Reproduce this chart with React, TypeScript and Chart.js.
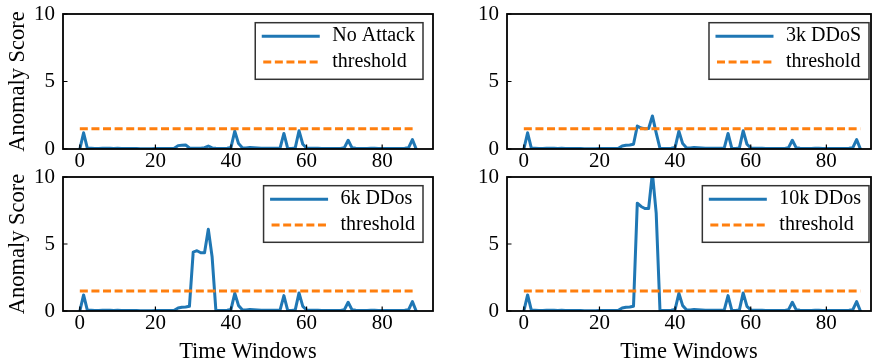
import { useEffect, useRef } from 'react';
import { Chart, registerables } from 'chart.js';

Chart.register(...registerables);

const FONT = "'Liberation Serif', 'Times New Roman', serif";

const TIME_WINDOWS = Array.from({ length: 90 }, (_, i) => i);
const X_TICKS = [0, 20, 40, 60, 80];
const Y_TICKS = [0, 5, 10];
const THRESHOLD = 1.5;
const THRESHOLD_LABEL = 'threshold';
const X_TITLE = 'Time Windows';
const Y_TITLE = 'Anomaly Score';

const NO_ATTACK = [
  0.0, 1.2, 0.05, 0.05, 0.04, 0.04, 0.05, 0.06, 0.05, 0.04,
  0.06, 0.04, 0.03, 0.03, 0.03, 0.03, 0.02, 0.02, 0.02, 0.02,
  0.03, 0.03, 0.03, 0.03, 0.04, 0.05, 0.25, 0.28, 0.3, 0.08,
  0.06, 0.05, 0.05, 0.1, 0.22, 0.08, 0.05, 0.04, 0.04, 0.05,
  0.12, 1.32, 0.4, 0.1, 0.08, 0.12, 0.1, 0.08, 0.06, 0.05,
  0.05, 0.05, 0.05, 0.08, 1.15, 0.05, 0.04, 0.08, 1.35, 0.35,
  0.08, 0.06, 0.05, 0.05, 0.04, 0.04, 0.03, 0.03, 0.03, 0.04,
  0.1, 0.65, 0.1, 0.05, 0.04, 0.04, 0.04, 0.05, 0.05, 0.04,
  0.04, 0.04, 0.03, 0.03, 0.03, 0.04, 0.05, 0.1, 0.7, 0.0,
];

const DDOS_3K = [
  0.0, 1.2, 0.05, 0.05, 0.04, 0.04, 0.05, 0.06, 0.05, 0.04,
  0.06, 0.04, 0.03, 0.03, 0.03, 0.03, 0.02, 0.02, 0.02, 0.02,
  0.03, 0.03, 0.03, 0.03, 0.04, 0.05, 0.22, 0.28, 0.3, 0.35,
  1.7, 1.55, 1.5, 1.52, 2.45, 1.2, 0.05, 0.04, 0.04, 0.05,
  0.12, 1.32, 0.4, 0.1, 0.08, 0.12, 0.1, 0.08, 0.06, 0.05,
  0.05, 0.05, 0.05, 0.08, 1.15, 0.05, 0.04, 0.08, 1.35, 0.35,
  0.08, 0.06, 0.05, 0.05, 0.04, 0.04, 0.03, 0.03, 0.03, 0.04,
  0.1, 0.65, 0.1, 0.05, 0.04, 0.04, 0.04, 0.05, 0.05, 0.04,
  0.04, 0.04, 0.03, 0.03, 0.03, 0.04, 0.05, 0.1, 0.7, 0.0,
];

const DDOS_6K = [
  0.0, 1.2, 0.05, 0.05, 0.04, 0.04, 0.05, 0.06, 0.05, 0.04,
  0.06, 0.04, 0.03, 0.03, 0.03, 0.03, 0.02, 0.02, 0.02, 0.02,
  0.03, 0.03, 0.03, 0.03, 0.04, 0.05, 0.22, 0.28, 0.3, 0.35,
  4.4, 4.5, 4.35, 4.35, 6.1, 4.05, 0.05, 0.04, 0.04, 0.05,
  0.12, 1.32, 0.4, 0.1, 0.08, 0.12, 0.1, 0.08, 0.06, 0.05,
  0.05, 0.05, 0.05, 0.08, 1.15, 0.05, 0.04, 0.08, 1.35, 0.35,
  0.08, 0.06, 0.05, 0.05, 0.04, 0.04, 0.03, 0.03, 0.03, 0.04,
  0.1, 0.65, 0.1, 0.05, 0.04, 0.04, 0.04, 0.05, 0.05, 0.04,
  0.04, 0.04, 0.03, 0.03, 0.03, 0.04, 0.05, 0.1, 0.7, 0.0,
];

const DDOS_10K = [
  0.0, 1.2, 0.05, 0.05, 0.04, 0.04, 0.05, 0.06, 0.05, 0.04,
  0.06, 0.04, 0.03, 0.03, 0.03, 0.03, 0.02, 0.02, 0.02, 0.02,
  0.03, 0.03, 0.03, 0.03, 0.04, 0.05, 0.22, 0.28, 0.3, 0.35,
  8.05, 7.8, 7.65, 7.65, 10.3, 7.3, 0.05, 0.04, 0.04, 0.05,
  0.12, 1.32, 0.4, 0.1, 0.08, 0.12, 0.1, 0.08, 0.06, 0.05,
  0.05, 0.05, 0.05, 0.08, 1.15, 0.05, 0.04, 0.08, 1.35, 0.35,
  0.08, 0.06, 0.05, 0.05, 0.04, 0.04, 0.03, 0.03, 0.03, 0.04,
  0.1, 0.65, 0.1, 0.05, 0.04, 0.04, 0.04, 0.05, 0.05, 0.04,
  0.04, 0.04, 0.03, 0.03, 0.03, 0.04, 0.05, 0.1, 0.7, 0.0,
];

const SERIES_LABELS = ['No Attack', '3k DDoS', '6k DDos', '10k DDos'];
const SERIES_VALUES = [NO_ATTACK, DDOS_3K, DDOS_6K, DDOS_10K];

const BLUE = '#1f77b4';
const ORANGE = '#ff7f0e';

type PanelCfg = {
  idx: number;
  left: number;
  top: number;
  width: number;
  height: number;
  padTop: number;
  padRight: number;
  xAxisHeight: number;
  xMax: number;
  showXTitle: boolean;
  showYTitle: boolean;
  legendInset: number;
};

const PANELS: PanelCfg[] = [
  { idx: 0, left: 0, top: 0, width: 440, height: 172, padTop: 14, padRight: 7, xAxisHeight: 23, xMax: 93.45, showXTitle: false, showYTitle: true, legendInset: 10 },
  { idx: 1, left: 444, top: 0, width: 428, height: 172, padTop: 14, padRight: 1, xAxisHeight: 23, xMax: 91.8, showXTitle: false, showYTitle: false, legendInset: 2 },
  { idx: 2, left: 0, top: 160, width: 440, height: 204, padTop: 17, padRight: 7, xAxisHeight: 53, xMax: 93.45, showXTitle: true, showYTitle: true, legendInset: 10 },
  { idx: 3, left: 444, top: 160, width: 428, height: 204, padTop: 17, padRight: 1, xAxisHeight: 53, xMax: 91.8, showXTitle: true, showYTitle: false, legendInset: 2 },
];

function makeFramePlugin(legendInset: number) {
  return {
    id: 'mplFrame',
    afterDraw(chart: any) {
      const { ctx, chartArea: a, scales } = chart;
      ctx.save();
      // inward ticks
      ctx.strokeStyle = '#000';
      ctx.lineWidth = 1.2;
      ctx.beginPath();
      X_TICKS.forEach((v) => {
        const px = scales.x.getPixelForValue(v);
        ctx.moveTo(px, a.bottom);
        ctx.lineTo(px, a.bottom - 4.5);
      });
      Y_TICKS.forEach((v) => {
        const py = scales.y.getPixelForValue(v);
        ctx.moveTo(a.left, py);
        ctx.lineTo(a.left + 4.5, py);
      });
      ctx.stroke();
      // spines
      ctx.lineWidth = 1.8;
      ctx.strokeRect(a.left, a.top, a.right - a.left, a.bottom - a.top);

      // legend
      ctx.font = `20px ${FONT}`;
      const items = chart.data.datasets.map((ds: any) => ({
        text: ds.label as string,
        color: ds.borderColor as string,
        dash: (ds.borderDash || []) as number[],
        width: ds.borderWidth as number,
      }));
      const maxW = Math.max(...items.map((it: any) => ctx.measureText(it.text).width));
      const boxW = 77 + maxW + 8;
      const boxRight = a.right - legendInset;
      const boxLeft = boxRight - boxW;
      const boxTop = a.top + 8.7;
      const boxH = 56.6;
      ctx.fillStyle = '#fff';
      ctx.fillRect(boxLeft, boxTop, boxW, boxH);
      ctx.strokeStyle = '#333';
      ctx.lineWidth = 1.5;
      ctx.strokeRect(boxLeft, boxTop, boxW, boxH);
      items.forEach((it: any, k: number) => {
        const y = boxTop + 13.5 + k * 25.7;
        ctx.beginPath();
        ctx.strokeStyle = it.color;
        ctx.lineWidth = it.width;
        ctx.setLineDash(it.dash);
        ctx.lineCap = it.dash.length ? 'butt' : 'square';
        ctx.moveTo(boxLeft + 8, y);
        ctx.lineTo(boxLeft + 63, y);
        ctx.stroke();
        ctx.setLineDash([]);
        ctx.fillStyle = '#000';
        ctx.textBaseline = 'middle';
        ctx.textAlign = 'left';
        ctx.fillText(it.text, boxLeft + 77, y);
      });
      ctx.restore();
    },
  };
}

function Panel({ cfg }: { cfg: PanelCfg }) {
  const ref = useRef<HTMLCanvasElement>(null);
  useEffect(() => {
    const values = SERIES_VALUES[cfg.idx];
    const chart = new Chart(ref.current as HTMLCanvasElement, {
      type: 'line',
      data: {
        datasets: [
          {
            label: SERIES_LABELS[cfg.idx],
            data: TIME_WINDOWS.map((t, i) => ({ x: t, y: values[i] })),
            borderColor: BLUE,
            borderWidth: 3,
            pointRadius: 0,
            tension: 0,
            borderJoinStyle: 'round',
            borderCapStyle: 'round',
            fill: false,
            order: 1,
          },
          {
            label: THRESHOLD_LABEL,
            data: [
              { x: TIME_WINDOWS[0], y: THRESHOLD },
              { x: TIME_WINDOWS[TIME_WINDOWS.length - 1], y: THRESHOLD },
            ],
            borderColor: ORANGE,
            borderWidth: 3,
            borderDash: [8, 3.6],
            pointRadius: 0,
            tension: 0,
            fill: false,
            order: 0,
          },
        ],
      } as any,
      options: {
        responsive: false,
        animation: false,
        events: [],
        layout: { padding: { top: cfg.padTop, right: cfg.padRight, left: 0, bottom: 0 } },
        plugins: { legend: { display: false }, tooltip: { enabled: false } },
        scales: {
          x: {
            type: 'linear',
            min: -4.45,
            max: cfg.xMax,
            afterBuildTicks: (s: any) => {
              s.ticks = X_TICKS.map((v) => ({ value: v }));
            },
            afterFit: (s: any) => {
              s.height = cfg.xAxisHeight;
            },
            grid: { display: false, drawTicks: false },
            border: { display: false },
            ticks: { padding: 0, color: '#000', font: { family: FONT, size: 21, lineHeight: 1.2 }, maxRotation: 0 },
            title: {
              display: cfg.showXTitle,
              text: X_TITLE,
              color: '#000',
              font: { family: FONT, size: 22.5, lineHeight: 1.1 },
              padding: { top: 0, bottom: 0 },
            },
          },
          y: {
            type: 'linear',
            min: 0,
            max: 10,
            afterBuildTicks: (s: any) => {
              s.ticks = Y_TICKS.map((v) => ({ value: v }));
            },
            afterFit: (s: any) => {
              s.width = 63;
            },
            grid: { display: false, drawTicks: true, tickLength: 8 },
            border: { display: false },
            ticks: { padding: 0, color: '#000', font: { family: FONT, size: 21, lineHeight: 1.2 } },
            title: {
              display: cfg.showYTitle,
              text: Y_TITLE,
              color: '#000',
              font: { family: FONT, size: 22.5, lineHeight: 1.2 },
              padding: { top: 5, bottom: 0 },
            },
          },
        },
      } as any,
      plugins: [makeFramePlugin(cfg.legendInset)],
    });
    return () => chart.destroy();
  }, [cfg]);
  return (
    <canvas
      ref={ref}
      width={cfg.width}
      height={cfg.height}
      style={{ position: 'absolute', left: cfg.left, top: cfg.top, width: cfg.width, height: cfg.height }}
    />
  );
}

export default function App() {
  return (
    <div
      style={{
        position: 'fixed',
        left: 0,
        top: 0,
        width: 872,
        height: 364,
        background: '#fff',
        overflow: 'hidden',
      }}
    >
      {PANELS.map((p) => (
        <Panel key={p.idx} cfg={p} />
      ))}
    </div>
  );
}
